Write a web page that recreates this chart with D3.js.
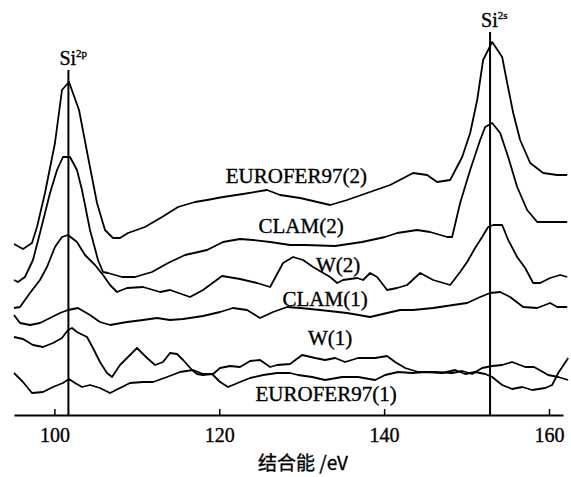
<!DOCTYPE html>
<html>
<head>
  <meta charset="utf-8">
  <title>XPS Si</title>
  <script src="https://cdn.jsdelivr.net/npm/d3@7"></script>
  <style>
    body { margin: 0; background: #fff; }
    svg text { font-family: "Liberation Serif", "DejaVu Serif", serif; fill: #000; stroke: #000; stroke-width: 0.35; }
    .curve { fill: none; stroke: #000; stroke-width: 1.8; stroke-linejoin: round; }
  </style>
</head>
<body>
<div id="chart"></div>
<script>
// spectra: [binding energy eV, intensity a.u.]
var eurofer2 = [[95.10,171],[96.19,166],[97.28,172],[97.89,188],[98.86,222],[100.07,272],[100.92,325],[101.77,333],[102.99,305],[104.08,258],[105.17,212],[106.14,185],[107.11,177],[107.96,177],[108.93,182],[110.99,188],[113.06,198],[115.00,208],[117.06,213],[118.52,215],[120.46,218],[122.88,221],[125.80,225],[127.38,220],[129.81,217],[133.45,210],[135.51,215],[137.94,222],[140.73,230],[143.52,242],[145.22,240],[146.43,233],[148.01,235],[149.47,258],[150.44,282],[151.29,315],[152.01,355],[153.11,373],[154.32,358],[154.93,332],[155.66,302],[156.50,275],[157.72,252],[159.30,242],[160.99,240],[162.21,240]];
var clam2 = [[95.10,135],[95.58,133],[96.43,138],[97.40,155],[98.25,182],[99.47,222],[100.32,245],[101.04,258],[101.89,258],[102.74,245],[103.35,225],[104.32,185],[105.29,155],[105.90,143],[106.50,142],[108.20,138],[109.78,138],[111.84,143],[113.79,152],[115.85,160],[118.52,165],[120.46,173],[122.52,176],[124.10,175],[126.17,173],[128.59,170],[130.41,170],[134.05,169],[137.33,173],[140.12,178],[141.58,182],[144.00,185],[145.58,183],[147.65,178],[148.25,178],[149.22,212],[150.44,245],[151.65,275],[152.26,288],[153.11,292],[154.08,282],[155.05,258],[156.14,228],[157.35,205],[158.57,193],[160.14,193],[162.21,193]];
var w2 = [[95.10,107],[95.83,108],[97.04,122],[98.25,135],[99.10,148],[100.07,168],[100.92,178],[101.65,180],[102.74,173],[103.71,160],[104.93,150],[105.90,140],[106.75,130],[107.60,123],[108.81,127],[110.75,128],[112.82,123],[114.03,125],[116.46,118],[118.03,125],[120.34,139],[122.52,136],[124.59,132],[126.17,128],[127.74,152],[128.96,158],[130.17,155],[131.38,148],[133.45,138],[134.30,132],[135.02,135],[136.72,137],[137.45,135],[138.30,142],[139.15,138],[140.36,125],[141.58,127],[142.79,130],[144.37,142],[145.95,135],[148.01,130],[149.22,143],[150.07,153],[151.04,167],[151.89,178],[152.62,188],[153.23,190],[154.32,190],[155.05,175],[156.14,158],[157.11,147],[158.08,132],[158.93,132],[160.14,137],[161.36,140],[162.21,138]];
var clam1 = [[95.10,100],[95.83,92],[97.04,90],[98.25,92],[99.47,97],[100.68,102],[101.65,105],[102.86,107],[104.32,100],[105.53,93],[106.75,90],[108.81,93],[110.75,95],[112.45,97],[114.03,95],[115.61,96],[118.03,99],[120.10,103],[121.67,107],[123.37,105],[124.95,97],[126.53,103],[128.23,108],[129.81,107],[132.23,105],[135.51,102],[138.30,98],[140.36,102],[141.94,105],[143.52,105],[145.95,107],[148.37,110],[150.07,112],[151.65,118],[152.86,122],[154.08,123],[155.29,118],[156.87,108],[158.57,107],[160.14,112],[160.99,108],[162.21,108]];
var w1 = [[95.10,78],[96.19,76],[97.40,70],[98.62,68],[99.83,72],[100.92,77],[101.65,85],[102.14,87],[102.74,83],[103.96,78],[104.68,67],[105.53,53],[106.38,42],[106.99,38],[107.96,50],[110.02,67],[111.24,57],[112.21,50],[113.18,53],[114.03,62],[114.88,61],[115.61,55],[116.70,45],[117.31,41],[118.03,40],[119.13,41],[120.10,33],[121.07,28],[122.52,33],[123.74,37],[125.32,40],[127.02,42],[128.59,42],[129.56,40],[131.26,38],[132.84,35],[134.90,38],[136.84,38],[138.91,35],[140.12,40],[141.70,43],[143.40,42],[144.98,43],[147.04,42],[148.62,45],[149.83,41],[151.04,43],[152.26,41],[153.11,38],[154.32,30],[155.53,26],[156.75,28],[157.96,25],[159.54,27],[160.39,30],[161.12,42],[162.33,57]];
var eurofer1 = [[95.10,42],[96.19,33],[97.28,22],[98.62,23],[99.83,28],[101.04,32],[101.77,36],[102.50,32],[103.35,28],[104.32,30],[105.53,27],[106.75,22],[107.96,27],[109.17,32],[110.75,33],[111.97,33],[113.67,38],[115.24,43],[116.82,45],[118.03,41],[119.25,41],[120.10,47],[121.31,49],[122.52,48],[123.74,54],[124.95,55],[126.17,48],[127.02,50],[128.59,51],[130.05,60],[131.63,57],[132.84,55],[134.05,57],[135.27,53],[136.84,57],[138.91,57],[140.36,59],[141.33,53],[142.55,47],[144.13,43],[146.19,43],[148.25,42],[149.47,44],[150.68,41],[151.89,47],[153.11,49],[154.32,50],[155.53,53],[157.11,48],[158.20,48],[159.90,40],[161.12,38],[162.33,35]];

var seriesNames = ["EUROFER97(2)", "CLAM(2)", "W(2)", "CLAM(1)", "W(1)", "EUROFER97(1)"];
var seriesData = [eurofer2, clam2, w2, clam1, w1, eurofer1];

var peakEnergy = [101.7, 152.85];
var peakTop = [345, 383];
var peakSup = ["2p", "2s"];

var xTicks = [100, 120, 140, 160];
var xTitle = "结合能 /eV";

// where each curve name sits, in data units
var labelAt = [[129.35, 232], [129.93, 182], [134.42, 143], [132.84, 109], [133.45, 70], [132.96, 14]];

var w = 571, h = 477;
var svg = d3.select("#chart").append("svg")
  .attr("width", w)
  .attr("height", h);

var x = d3.scaleLinear().domain([95.1, 161.7]).range([14, 563]);
var y = d3.scaleLinear().domain([0, 400]).range([415, 15]);

var line = d3.line()
  .x(function(d) { return x(d[0]); })
  .y(function(d) { return y(d[1]); });

// peak marker lines
svg.selectAll("line.peak")
  .data(peakEnergy)
  .enter()
  .append("line")
  .attr("class", "peak")
  .attr("x1", function(d) { return x(d); })
  .attr("x2", function(d) { return x(d); })
  .attr("y1", function(d, i) { return y(peakTop[i]); })
  .attr("y2", y(0))
  .attr("stroke", "#000")
  .attr("stroke-width", 2);

var peakText = svg.selectAll("text.peak")
  .data(peakEnergy)
  .enter()
  .append("text")
  .attr("class", "peak")
  .attr("x", function(d) { return x(d) - 9; })
  .attr("y", function(d, i) { return y(peakTop[i]) - 5; })
  .attr("font-size", "20px")
  .text("Si");
peakText.append("tspan")
  .attr("font-size", "11px")
  .attr("dy", "-8")
  .text(function(d, i) { return peakSup[i]; });

svg.selectAll("path.curve")
  .data(seriesData)
  .enter()
  .append("path")
  .attr("class", "curve")
  .attr("d", line);

svg.selectAll("text.name")
  .data(seriesNames)
  .enter()
  .append("text")
  .attr("class", "name")
  .attr("x", function(d, i) { return x(labelAt[i][0]); })
  .attr("y", function(d, i) { return y(labelAt[i][1]); })
  .attr("text-anchor", "middle")
  .attr("font-size", "21px")
  .text(function(d) { return d; });

var axis = d3.axisBottom(x)
  .tickValues(xTicks)
  .tickSizeInner(-6)
  .tickSizeOuter(0)
  .tickPadding(13);

var gx = svg.append("g")
  .attr("transform", "translate(0," + y(0) + ")")
  .call(axis);
gx.select(".domain").attr("stroke-width", 2);
gx.selectAll(".tick line").attr("stroke-width", 1.5);
gx.selectAll(".tick text")
  .attr("font-size", "20px")
  .attr("font-family", "Liberation Serif");

svg.append("text")
  .attr("x", 303)
  .attr("y", 470)
  .attr("text-anchor", "middle")
  .attr("font-size", "19px")
  .style("font-family", "'Noto Sans CJK SC', 'Liberation Serif', serif")
  .text(xTitle);
</script>
</body>
</html>
